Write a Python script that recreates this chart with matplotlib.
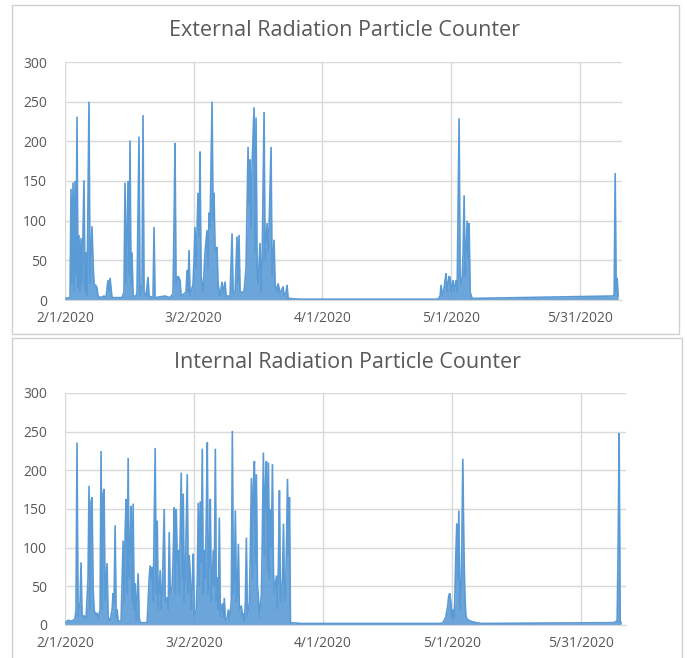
import matplotlib
matplotlib.use('Agg')
import matplotlib.pyplot as plt
from matplotlib.patches import Rectangle
import pandas as pd

plt.rcParams.update({
    'font.family': ['Open Sans', 'DejaVu Sans'],
    'font.size': 10,
})

START = pd.Timestamp('2020-02-01')

# External counter: days since 2/1/2020 and counts
ext_days = [0.00, 1.17, 1.40, 1.63, 1.86, 2.10, 2.33, 2.56, 2.80, 3.03, 3.26, 3.50, 3.73, 3.96,
            4.43, 4.66, 4.90, 5.13, 5.59, 5.83, 6.29, 6.53, 6.76, 7.23, 7.46, 7.69, 8.16, 9.09,
            9.56, 10.02, 10.26, 10.49, 10.72, 10.96, 13.29, 13.75, 13.99, 14.22, 14.69, 14.92,
            15.15, 15.38, 15.62, 15.85, 16.55, 16.78, 17.25, 17.48, 17.95, 18.18, 18.41, 18.88,
            19.35, 19.58, 20.51, 20.75, 20.98, 23.31, 24.48, 25.17, 25.41, 25.64, 25.87, 26.34,
            26.81, 27.04, 28.21, 28.44, 28.67, 28.90, 29.14, 29.84, 30.07, 30.30, 30.54, 30.77,
            31.00, 31.24, 31.47, 31.70, 32.17, 32.63, 33.10, 33.33, 33.57, 33.80, 34.27, 34.50,
            34.73, 34.97, 35.43, 35.66, 36.13, 36.60, 36.83, 37.30, 37.53, 38.46, 38.93, 39.16,
            39.63, 40.09, 40.33, 40.56, 40.79, 41.72, 42.19, 42.66, 42.89, 43.12, 43.36, 43.59,
            44.06, 44.29, 44.52, 44.76, 44.99, 45.45, 45.69, 45.92, 46.39, 46.62, 47.09, 47.32,
            47.55, 48.02, 48.25, 48.72, 48.95, 49.42, 49.65, 50.12, 50.82, 51.05, 51.52, 51.75,
            51.98, 54.78, 86.95, 87.41, 87.65, 87.88, 88.34, 88.81, 89.04, 89.51, 89.74, 89.98,
            90.44, 90.68, 91.14, 91.38, 91.84, 92.07, 92.31, 92.54, 92.77, 93.01, 93.24, 93.47,
            93.71, 93.94, 94.17, 94.41, 94.87, 127.51, 127.97, 128.21, 128.44, 128.67, 128.90]
ext_vals = [2, 3, 140, 20, 148, 10, 150, 30, 231, 15, 82, 10, 78, 20,
            151, 10, 60, 5, 250, 20, 93, 48, 20, 18, 15, 5, 3, 5,
            3, 25, 10, 28, 15, 3, 3, 10, 148, 20, 150, 30,
            201, 20, 60, 5, 5, 10, 206, 5, 20, 233, 10, 5,
            29, 5, 3, 92, 3, 5, 3, 8, 95, 198, 20, 30,
            25, 5, 10, 38, 10, 63, 5, 20, 50, 92, 40, 90,
            135, 80, 187, 30, 10, 60, 88, 40, 110, 90, 250, 100,
            135, 60, 67, 20, 5, 23, 8, 23, 5, 5, 84, 10,
            8, 80, 20, 82, 10, 10, 40, 193, 120, 177, 90, 170,
            243, 60, 230, 40, 20, 72, 10, 40, 237, 50, 97, 60,
            90, 193, 30, 76, 20, 10, 21, 8, 17, 5, 10, 19,
            2, 1, 1, 5, 19, 5, 15, 34, 10, 30, 28, 10,
            25, 10, 25, 10, 229, 30, 20, 25, 60, 132, 30, 60,
            100, 50, 97, 10, 2, 5, 6, 160, 10, 28, 5]

# Internal counter
int_days = [0.00, 0.70, 1.63, 2.33, 2.56, 2.80, 3.03, 3.50, 3.73, 3.96, 4.43, 4.66, 4.90, 5.36,
            5.59, 5.83, 6.06, 6.29, 6.53, 6.76, 6.99, 7.46, 7.69, 8.16, 8.39, 8.62, 8.86, 9.09,
            9.32, 9.79, 10.02, 10.49, 10.96, 11.19, 11.42, 11.66, 11.89, 12.12, 12.35, 13.05,
            13.29, 13.52, 13.75, 13.99, 14.22, 14.45, 14.69, 14.92, 15.15, 15.38, 15.62, 15.85,
            16.08, 16.32, 16.55, 17.02, 17.25, 17.48, 19.11, 19.58, 19.81, 20.05, 20.28, 20.51,
            20.98, 21.21, 21.45, 21.68, 22.14, 22.38, 22.61, 23.08, 23.31, 23.78, 24.01, 24.24,
            24.48, 24.94, 25.17, 25.41, 25.64, 25.87, 26.11, 26.34, 26.57, 27.04, 27.27, 27.51,
            27.74, 27.97, 28.44, 28.67, 28.90, 29.14, 29.37, 29.60, 29.84, 30.07, 30.54, 30.77,
            31.00, 31.24, 31.47, 31.70, 31.93, 32.17, 32.40, 32.63, 32.87, 33.10, 33.33, 33.57,
            33.80, 34.03, 34.27, 34.50, 34.73, 34.97, 35.20, 35.43, 35.66, 35.90, 36.13, 36.60,
            36.83, 37.06, 37.30, 37.76, 38.00, 38.23, 38.69, 38.93, 39.16, 39.39, 39.63, 39.86,
            40.09, 40.33, 40.56, 41.03, 41.26, 41.49, 41.72, 41.96, 42.19, 42.42, 42.66, 42.89,
            43.12, 43.36, 43.59, 43.82, 44.06, 44.29, 44.52, 44.76, 44.99, 45.22, 45.69, 45.92,
            46.15, 46.39, 46.62, 46.85, 47.09, 47.32, 47.55, 47.79, 48.02, 48.25, 48.49, 48.72,
            49.18, 49.42, 49.65, 49.88, 50.12, 50.35, 50.58, 50.82, 51.05, 51.28, 51.52, 51.75,
            51.98, 52.21, 52.45, 54.78, 87.41, 87.88, 88.11, 88.58, 89.04, 89.27, 89.51, 89.74,
            89.98, 90.21, 90.44, 90.68, 90.91, 91.14, 91.38, 91.61, 91.84, 92.07, 92.31, 92.54,
            92.77, 93.01, 93.24, 93.47, 93.94, 94.41, 94.87, 96.74, 127.51, 128.44, 128.67,
            128.90, 129.14, 129.37]
int_vals = [3, 6, 5, 8, 20, 236, 10, 30, 81, 10, 12, 10, 8, 60,
            180, 20, 160, 165, 49, 20, 15, 15, 8, 20, 225, 20, 170, 176,
            30, 80, 10, 5, 20, 41, 30, 129, 10, 20, 5, 5,
            60, 109, 30, 120, 163, 40, 216, 60, 100, 154, 30, 157,
            20, 54, 5, 67, 10, 3, 3, 60, 77, 60, 75, 30,
            229, 40, 135, 20, 71, 20, 40, 150, 30, 36, 20, 120,
            40, 50, 90, 152, 40, 150, 80, 97, 40, 197, 60, 170,
            30, 60, 195, 40, 90, 64, 20, 50, 92, 10, 20, 60,
            158, 50, 160, 80, 228, 40, 97, 60, 140, 236, 40, 90,
            163, 30, 60, 97, 50, 228, 30, 62, 20, 139, 10, 28,
            10, 35, 5, 10, 20, 5, 30, 251, 40, 60, 148, 30,
            40, 105, 20, 25, 10, 15, 5, 30, 113, 10, 20, 30,
            100, 190, 60, 180, 212, 80, 195, 50, 36, 10, 40, 120,
            223, 90, 180, 212, 70, 210, 60, 150, 100, 208, 67, 40,
            64, 20, 80, 174, 30, 40, 60, 131, 30, 40, 100, 189,
            90, 165, 3, 2, 2, 3, 5, 10, 25, 38, 41, 30,
            10, 20, 8, 30, 90, 131, 60, 148, 30, 20, 100, 215,
            105, 40, 12, 8, 6, 5, 4, 2, 3, 5, 100,
            248, 5, 3]

titles = ['External Radiation Particle Counter', 'Internal Radiation Particle Counter']
tick_dates = ['2020-02-01', '2020-03-02', '2020-04-01', '2020-05-01', '2020-05-31']
y_ticks = [0, 50, 100, 150, 200, 250, 300]

LINE = '#5B9BD5'
GRID = '#d9d9d9'
TEXT = '#595959'

W, H = 687, 658
fig = plt.figure(figsize=(W / 100, H / 100), dpi=100)

# chart frames (Excel chart borders), in pixels
for (x0, y0, x1, y1) in [(12, 5, 679, 334), (12, 338, 682, 660)]:
    fig.add_artist(Rectangle((x0 / W, 1 - y1 / H), (x1 - x0) / W, (y1 - y0) / H,
                             transform=fig.transFigure, facecolor='none',
                             edgecolor='#d0d0d0', linewidth=1))

panels = [
    (ext_days, ext_vals, [65 / W, 1 - 300 / H, 557 / W, 238 / H], (345, 30)),
    (int_days, int_vals, [65 / W, 1 - 625 / H, 561 / W, 232 / H], (348, 362)),
]

for i, (days, vals, rect, tpos) in enumerate(panels):
    ax = fig.add_axes(rect)
    x = START + pd.to_timedelta(days, unit='D')
    # dense sampling in the original makes the spikes look filled
    ax.fill_between(x, vals, 0, color=LINE, alpha=0.9, linewidth=0)
    ax.plot(x, vals, color=LINE, linewidth=1.2, solid_joinstyle='miter')

    ax.set_ylim(0, 300)
    ax.set_yticks(y_ticks)
    ax.set_xlim(START, START + pd.Timedelta(days=129.8 if i == 0 else 130.5))
    ticks = pd.to_datetime(tick_dates)
    ax.set_xticks(ticks)
    ax.set_xticklabels([f'{d.month}/{d.day}/{d.year}' for d in ticks])

    ax.grid(True, color=GRID, linewidth=1)
    ax.set_axisbelow(True)
    for s in ['top', 'right', 'left']:
        ax.spines[s].set_visible(False)
    ax.spines['bottom'].set_color(GRID)
    ax.tick_params(axis='both', length=0, colors=TEXT, labelsize=10)
    ax.tick_params(axis='y', pad=13)
    ax.tick_params(axis='x', pad=8)

    fig.text(tpos[0] / W, 1 - tpos[1] / H, titles[i], ha='center', va='center',
             fontsize=15.5, color=TEXT)

fig.savefig('out.png', dpi=100)
